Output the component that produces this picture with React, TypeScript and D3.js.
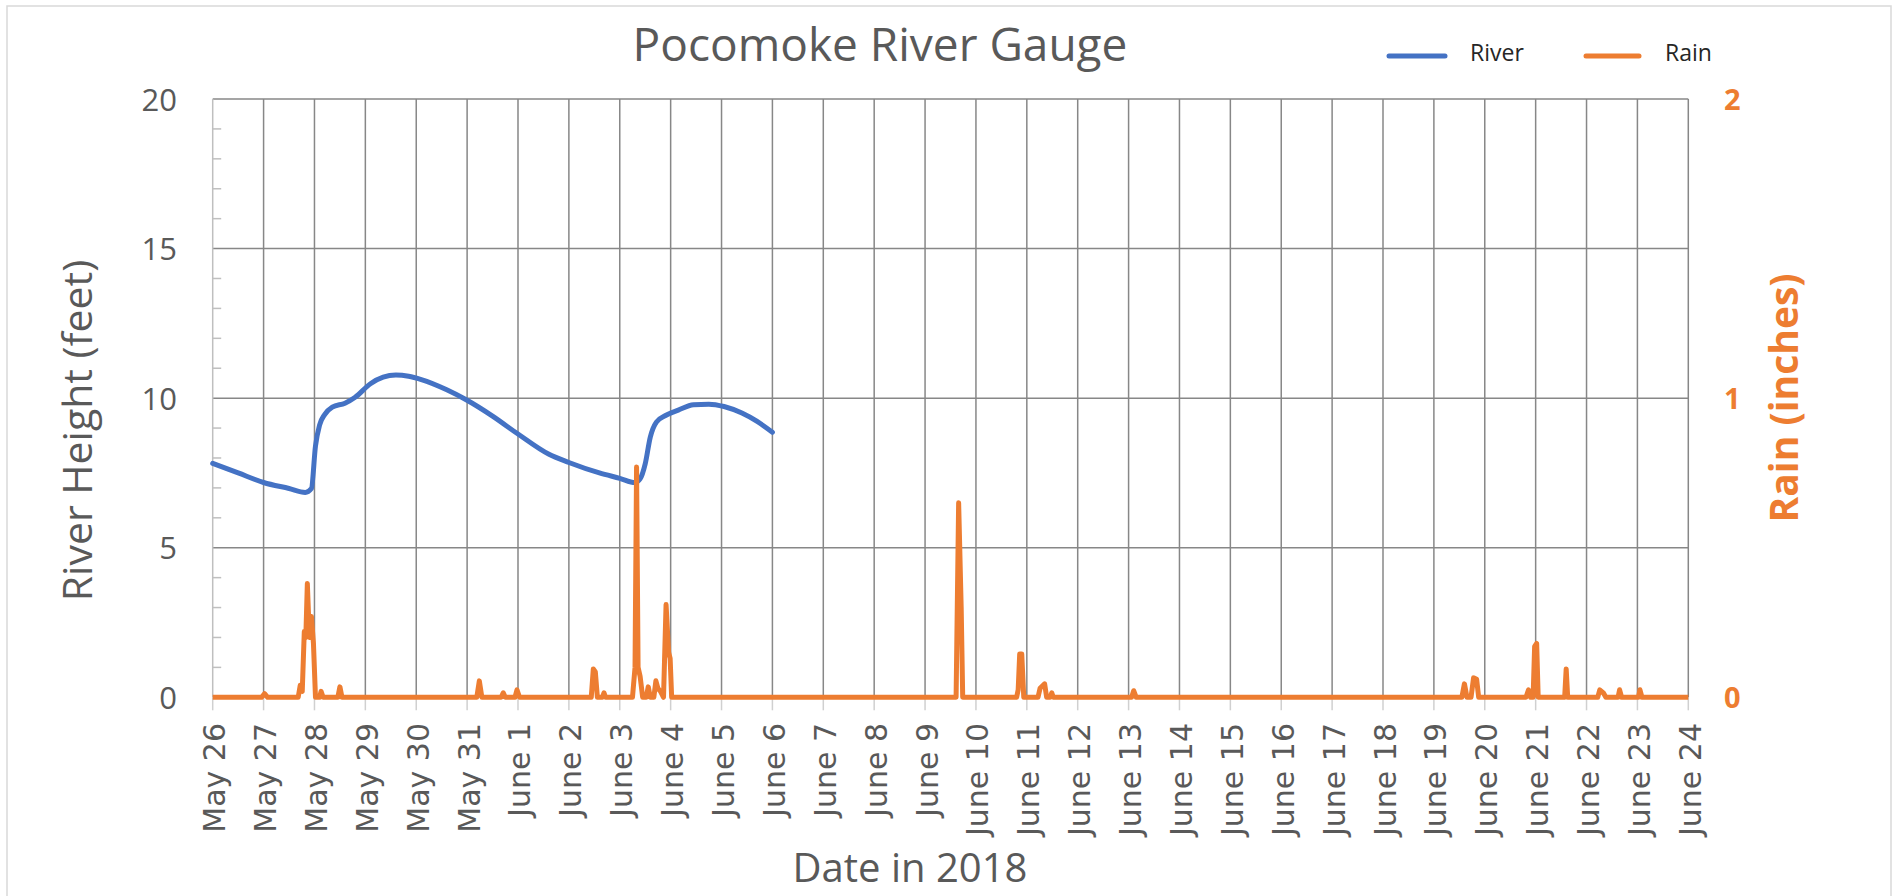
import React from "react";
import * as d3 from "d3";

// times are in days after May 26 2018 00:00
const riverDays = [
  0, 0.5, 1.0, 1.5, 1.82, 1.94, 2.02, 2.1, 2.2, 2.35, 2.6, 2.8, 3.1, 3.35, 3.6,
  3.85, 4.1, 4.6, 5.0, 5.5, 6.0, 6.6, 7.0, 7.6, 8.0, 8.3, 8.4, 8.5, 8.6, 8.72,
  8.9, 9.15, 9.45, 9.75, 10.05, 10.4, 10.7, 11.0,
];
const riverFeet = [
  7.82, 7.5, 7.18, 6.98, 6.85, 6.98, 8.4, 9.1, 9.45, 9.7, 9.83, 10.03, 10.48,
  10.7, 10.77, 10.73, 10.62, 10.28, 9.93, 9.4, 8.8, 8.13, 7.85, 7.5, 7.32, 7.18,
  7.3, 7.8, 8.7, 9.2, 9.42, 9.6, 9.78, 9.8, 9.72, 9.5, 9.22, 8.86,
];

const rainDays = [
  0, 0.96, 1.02, 1.08, 1.68, 1.72, 1.76, 1.8, 1.83, 1.86, 1.9, 1.94, 1.98, 2.02,
  2.1, 2.13, 2.17, 2.46, 2.5, 2.54, 5.19, 5.24, 5.29, 5.67, 5.71, 5.75, 5.94,
  5.98, 6.03, 7.44, 7.48, 7.52, 7.56, 7.66, 7.69, 7.72, 8.25, 8.3, 8.33, 8.36,
  8.4, 8.45, 8.52, 8.56, 8.6, 8.67, 8.71, 8.75, 8.8, 8.86, 8.91, 8.96, 8.99,
  9.02, 14.61, 14.66, 14.71, 14.74, 15.8, 15.83, 15.86, 15.9, 15.94, 16.22,
  16.26, 16.35, 16.39, 16.46, 16.49, 16.52, 18.06, 18.1, 18.15, 24.55, 24.6,
  24.65, 24.73, 24.78, 24.84, 24.88, 25.81, 25.86, 25.9, 25.95, 25.98, 26.02,
  26.05, 26.57, 26.6, 26.63, 27.22, 27.26, 27.33, 27.38, 27.62, 27.65, 27.69,
  28.02, 28.05, 28.09, 29,
];
const rainInches = [
  0, 0, 0.012, 0, 0, 0.04, 0.02, 0.22, 0.2, 0.38, 0.2, 0.27, 0.18, 0, 0, 0.02,
  0, 0, 0.035, 0, 0, 0.055, 0, 0, 0.015, 0, 0, 0.025, 0, 0, 0.095, 0.085, 0, 0,
  0.015, 0, 0, 0.1, 0.77, 0.1, 0.07, 0, 0, 0.035, 0, 0, 0.055, 0.03, 0.02, 0,
  0.31, 0.15, 0.13, 0, 0, 0.65, 0.3, 0, 0, 0.025, 0.145, 0.145, 0, 0, 0.03,
  0.045, 0, 0, 0.015, 0, 0, 0.022, 0, 0, 0.045, 0, 0, 0.065, 0.06, 0, 0, 0.025,
  0, 0, 0.17, 0.18, 0, 0, 0.095, 0, 0, 0.025, 0.015, 0, 0, 0.025, 0, 0, 0.025,
  0, 0,
];

const dayLabels = [
  "May 26", "May 27", "May 28", "May 29", "May 30", "May 31", "June 1",
  "June 2", "June 3", "June 4", "June 5", "June 6", "June 7", "June 8",
  "June 9", "June 10", "June 11", "June 12", "June 13", "June 14", "June 15",
  "June 16", "June 17", "June 18", "June 19", "June 20", "June 21", "June 22",
  "June 23", "June 24",
];
const heightTicks = [0, 5, 10, 15, 20];
const rainTicks = [0, 1, 2];

const BLUE = "#4472C4";
const ORANGE = "#ED7D31";
const GRID = "#878787";
const TEXT = "#595959";
const SANS = "'Open Sans', 'Noto Sans', sans-serif";

export default function App() {
  const width = 1895;
  const height = 896;
  const plot = { left: 212.7, right: 1688.3, top: 99, bottom: 697.3 };

  const x = d3
    .scaleLinear()
    .domain([0, dayLabels.length - 1])
    .range([plot.left, plot.right]);
  const yRiver = d3.scaleLinear().domain([0, 20]).range([plot.bottom, plot.top]);
  const yRain = d3.scaleLinear().domain([0, 2]).range([plot.bottom, plot.top]);

  const riverLine = d3
    .line<number>()
    .x((d) => x(d))
    .y((_d, i) => yRiver(riverFeet[i]))
    .curve(d3.curveMonotoneX);
  const rainLine = d3
    .line<number>()
    .x((d) => x(d))
    .y((_d, i) => yRain(rainInches[i]));

  const minorTicks = yRiver.ticks(20).filter((t) => t % 5 !== 0);

  return (
    <svg
      width={width}
      height={height}
      style={{ position: "absolute", left: 0, top: 0, background: "#fff" }}
    >
      {/* chart frame */}
      <rect x={7} y={6} width={1884} height={900} fill="#fff" stroke="#d9d9d9" strokeWidth={1.5} />

      {/* title */}
      <text x={880} y={61} textAnchor="middle" fontFamily={SANS} fontSize={46} fill={TEXT}>
        Pocomoke River Gauge
      </text>

      {/* legend */}
      <line x1={1389} x2={1445} y1={56} y2={56} stroke={BLUE} strokeWidth={5} strokeLinecap="round" />
      <text x={1470} y={61} fontFamily={SANS} fontSize={23} fill="#262626">River</text>
      <line x1={1586} x2={1639} y1={56} y2={56} stroke={ORANGE} strokeWidth={5} strokeLinecap="round" />
      <text x={1665} y={61} fontFamily={SANS} fontSize={23} fill="#262626">Rain</text>

      {/* horizontal gridlines */}
      {heightTicks.filter((t) => t > 0).map((t) => (
        <line key={"h" + t} x1={plot.left} x2={plot.right} y1={yRiver(t)} y2={yRiver(t)} stroke={GRID} strokeWidth={1.5} />
      ))}

      {/* vertical gridlines and small ticks under the axis */}
      {dayLabels.map((_l, i) => (
        <g key={"v" + i}>
          <line x1={x(i)} x2={x(i)} y1={plot.bottom} y2={plot.bottom + 13} stroke="#d0d0d0" strokeWidth={1.5} />
          <line x1={x(i)} x2={x(i)} y1={plot.top} y2={plot.bottom} stroke={i === 0 ? "#bfbfbf" : GRID} strokeWidth={1.5} />
        </g>
      ))}

      {/* minor ticks on left axis */}
      {minorTicks.map((t) => (
        <line key={"m" + t} x1={plot.left} x2={plot.left + 8.5} y1={yRiver(t)} y2={yRiver(t)} stroke="#bfbfbf" strokeWidth={1.5} />
      ))}

      {/* left axis labels */}
      {heightTicks.map((t) => (
        <text key={"l" + t} x={177} y={yRiver(t) + 11.5} textAnchor="end" fontFamily={SANS} fontSize={31} fill={TEXT}>
          {t}
        </text>
      ))}
      <text transform={`translate(92,430.5) rotate(-90)`} textAnchor="middle" fontFamily={SANS} fontSize={41} fill={TEXT}>
        River Height (feet)
      </text>

      {/* right axis labels */}
      {rainTicks.map((t) => (
        <text key={"r" + t} x={1724} y={yRain(t) + 10.5} fontFamily={SANS} fontWeight="bold" fontSize={29} fill={ORANGE}>
          {t}
        </text>
      ))}
      <text transform={`translate(1798,398) rotate(-90)`} textAnchor="middle" fontFamily={SANS} fontWeight="bold" fontSize={39} fill={ORANGE}>
        Rain (inches)
      </text>

      {/* x axis labels */}
      {dayLabels.map((l, i) => (
        <text
          key={"x" + i}
          transform={`translate(${x(i) + 12.5},723) rotate(-90)`}
          textAnchor="end"
          fontFamily="'DejaVu Sans', Verdana, sans-serif"
          fontSize={30}
          fill={TEXT}
        >
          {l}
        </text>
      ))}
      <text x={910} y={882} textAnchor="middle" fontFamily={SANS} fontSize={40} fill={TEXT}>
        Date in 2018
      </text>

      {/* series */}
      <path d={riverLine(riverDays) ?? ""} fill="none" stroke={BLUE} strokeWidth={5} strokeLinejoin="round" strokeLinecap="round" />
      <path d={rainLine(rainDays) ?? ""} fill="none" stroke={ORANGE} strokeWidth={5} strokeLinejoin="round" strokeLinecap="butt" />
    </svg>
  );
}
